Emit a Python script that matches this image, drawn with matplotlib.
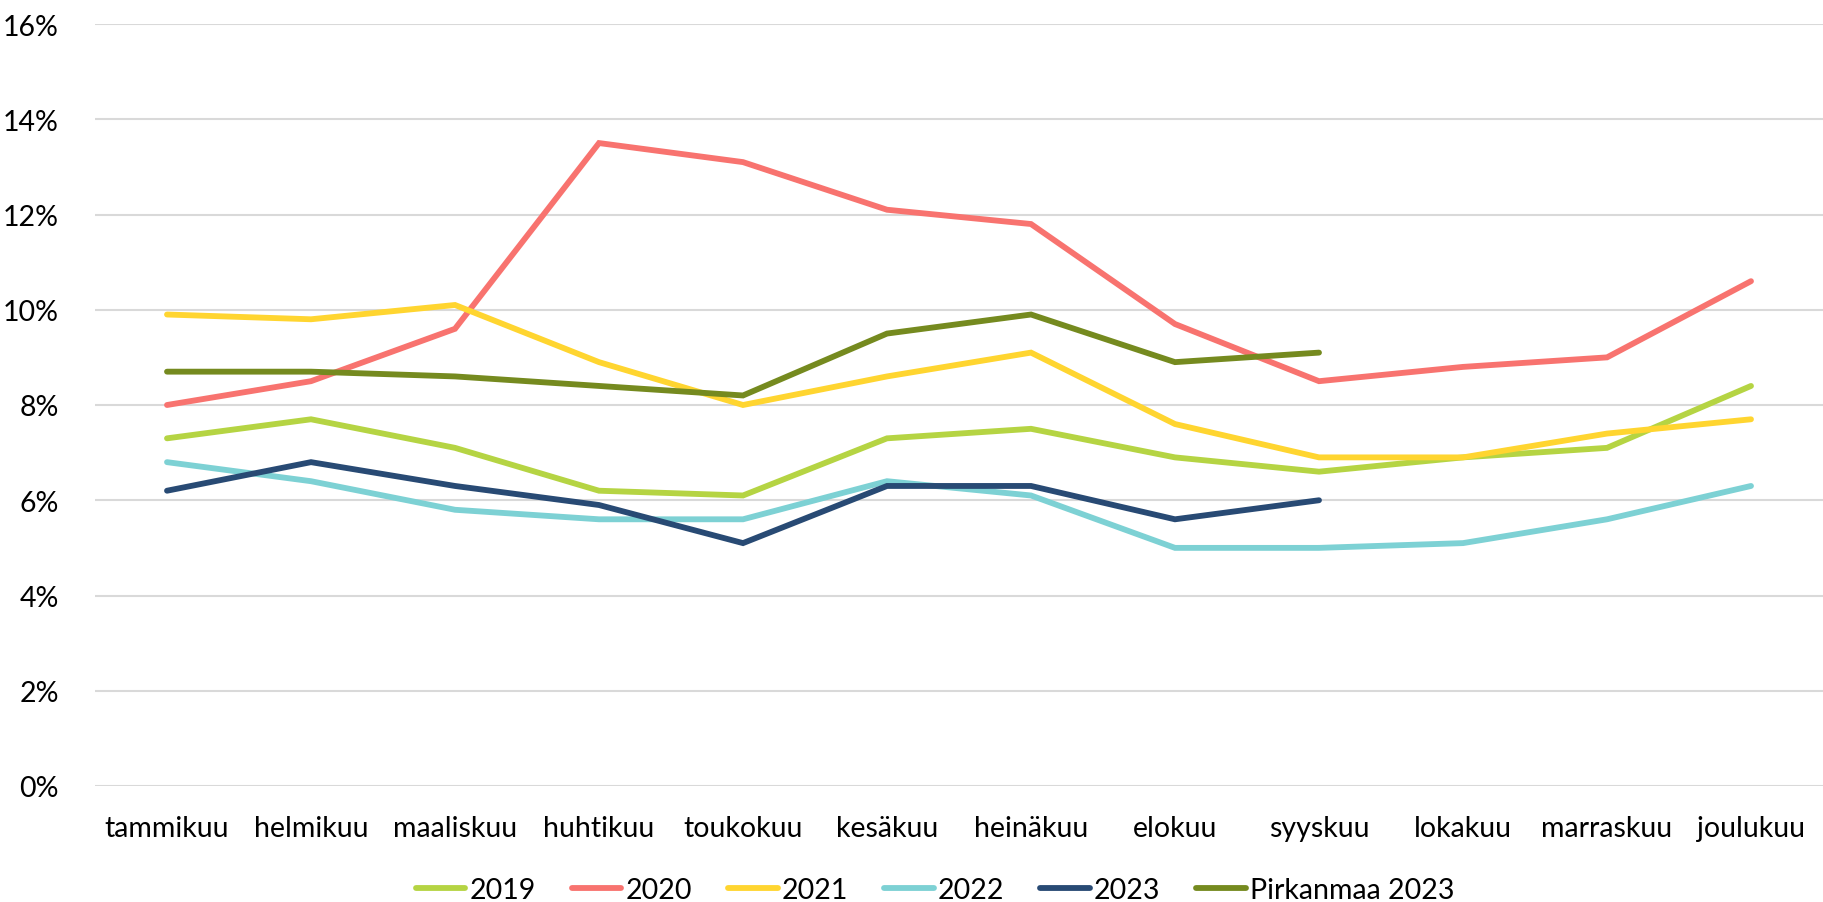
import numpy as np
import matplotlib
matplotlib.use('Agg')
import matplotlib.pyplot as plt
from matplotlib.ticker import FuncFormatter

plt.rcParams['font.family'] = ['Lato', 'DejaVu Sans']

kuukaudet = ['tammikuu', 'helmikuu', 'maaliskuu', 'huhtikuu', 'toukokuu', 'kesäkuu',
             'heinäkuu', 'elokuu', 'syyskuu', 'lokakuu', 'marraskuu', 'joulukuu']

v2019 = [7.3, 7.7, 7.1, 6.2, 6.1, 7.3, 7.5, 6.9, 6.6, 6.9, 7.1, 8.4]
v2020 = [8.0, 8.5, 9.6, 13.5, 13.1, 12.1, 11.8, 9.7, 8.5, 8.8, 9.0, 10.6]
v2021 = [9.9, 9.8, 10.1, 8.9, 8.0, 8.6, 9.1, 7.6, 6.9, 6.9, 7.4, 7.7]
v2022 = [6.8, 6.4, 5.8, 5.6, 5.6, 6.4, 6.1, 5.0, 5.0, 5.1, 5.6, 6.3]
v2023 = [6.2, 6.8, 6.3, 5.9, 5.1, 6.3, 6.3, 5.6, 6.0]
pirkanmaa2023 = [8.7, 8.7, 8.6, 8.4, 8.2, 9.5, 9.9, 8.9, 9.1]

sarjat = [('2019', v2019, '#B5D443'),
          ('2020', v2020, '#F8736F'),
          ('2021', v2021, '#FFD530'),
          ('2022', v2022, '#7DD1D4'),
          ('2023', v2023, '#284A74'),
          ('Pirkanmaa 2023', pirkanmaa2023, '#758A1F')]

fig = plt.figure(figsize=(18.23, 9.03), dpi=100)
ax = fig.add_axes([95/1823, 1-787/903, 1-95/1823, (787-25)/903])

x = np.arange(len(kuukaudet))
for nimi, arvot, vari in sarjat:
    arvot = np.array(arvot) / 100
    ax.plot(x[:len(arvot)], arvot, color=vari, lw=4.2, label=nimi,
            solid_capstyle='round', solid_joinstyle='miter')

ax.set_xlim(-0.5, len(kuukaudet) - 0.5)
ax.set_ylim(0, 0.16)
ax.set_yticks(np.arange(0, 0.161, 0.02))
ax.yaxis.set_major_formatter(FuncFormatter(lambda v, p: f'{v*100:.0f}%'))
ax.set_xticks(x)
ax.set_xticklabels(kuukaudet)
ax.grid(axis='y', color='#D9D9D9', lw=1.5)
ax.set_axisbelow(True)
for s in ax.spines.values():
    s.set_visible(False)
ax.tick_params(length=0, labelsize=20.5, colors='black')
ax.tick_params(axis='x', pad=21)
ax.tick_params(axis='y', pad=26)

fig.legend(loc='center', bbox_to_anchor=(0.513, 0.013), ncol=6, frameon=False,
           fontsize=20.5, handlelength=1.75, columnspacing=1.25, handletextpad=0.15)

fig.savefig('out.png', dpi=100)
